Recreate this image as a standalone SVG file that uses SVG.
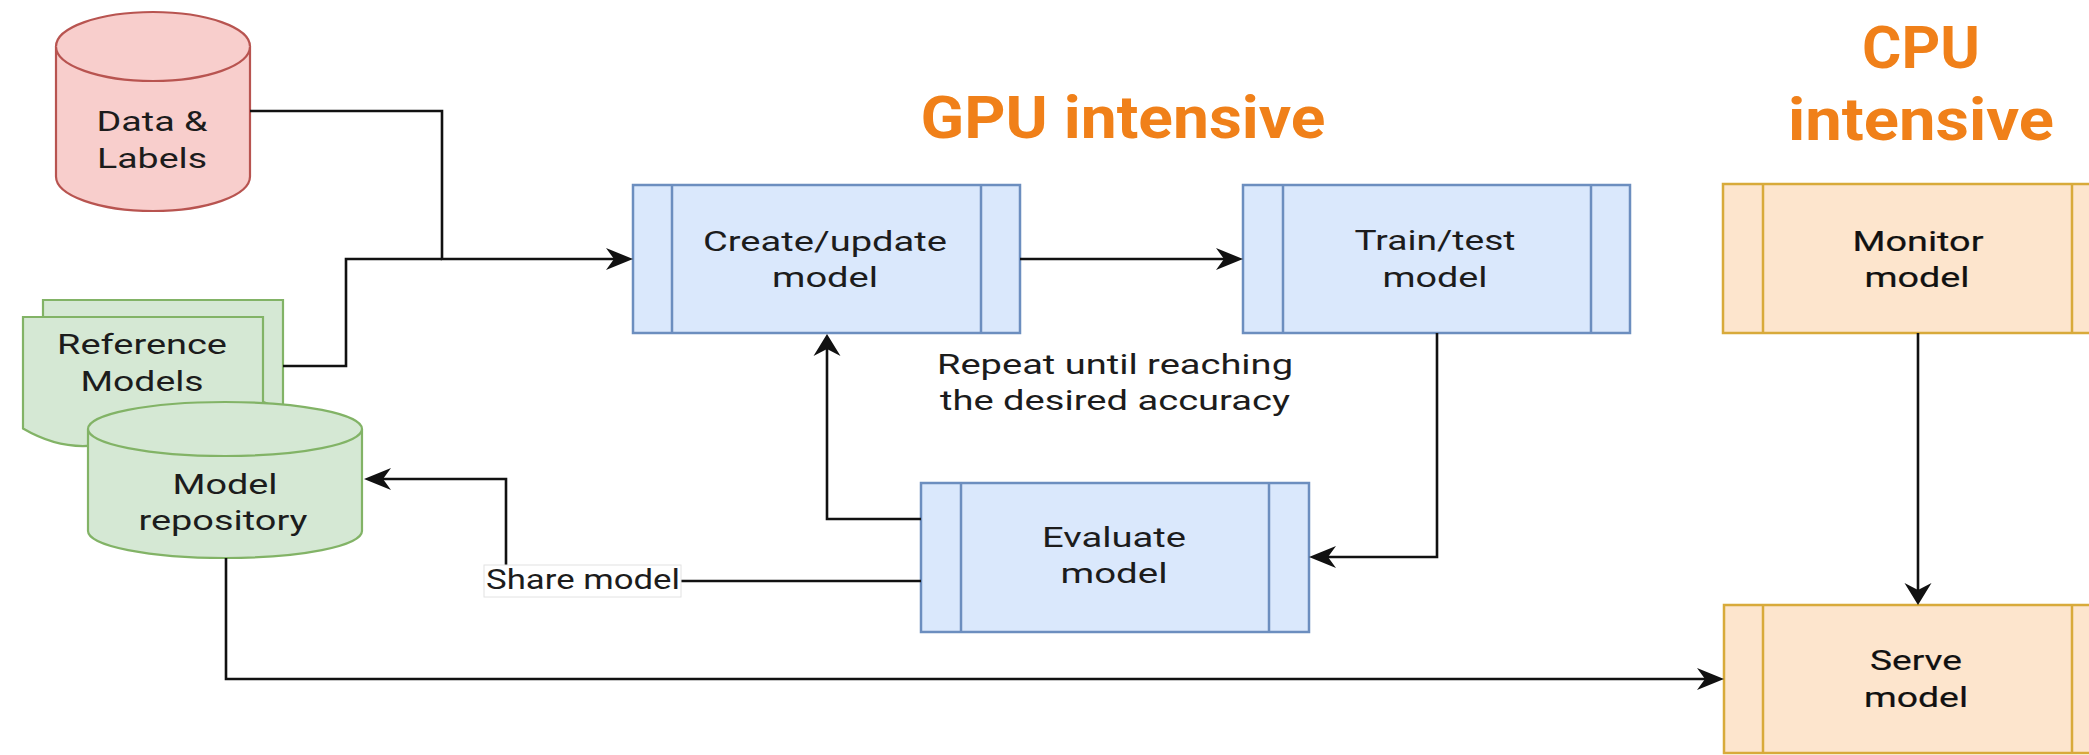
<svg xmlns="http://www.w3.org/2000/svg" width="2089" height="755" viewBox="0 0 2089 755">
  <style>
    .lbl { font-family: Roboto, "Liberation Sans", sans-serif; font-size: 27px; fill: #1c1c1c; text-anchor: middle; }
    .lblb { font-family: Roboto, "Liberation Sans", sans-serif; font-size: 27px; font-weight: 400; fill: #111111; stroke: #111111; stroke-width: 0.2; text-anchor: middle; }
    .head { font-family: Roboto, "Liberation Sans", sans-serif; font-size: 60px; font-weight: 700; fill: #F08019; text-anchor: middle; }
    .blue { fill: #DAE8FC; stroke: #6C8EBF; stroke-width: 2.5; }
    .orange { fill: #FDE5CD; stroke: #D8AA3A; stroke-width: 2.5; }
    .red { fill: #F8CECC; stroke: #B85450; stroke-width: 2.2; }
    .green { fill: #D5E8D4; stroke: #82B366; stroke-width: 2.2; }
    .edge { fill: none; stroke: #111; stroke-width: 2.6; }
    .ah { fill: #111; stroke: none; }
  </style>
  <defs>
    <marker id="arrowH" markerUnits="userSpaceOnUse" viewBox="-28 -12 29 24" markerWidth="29" markerHeight="24" refX="-18" refY="0" orient="auto">
      <path class="ah" d="M0,0 L-27,-11 L-19,0 L-27,11 Z"/>
    </marker>
    <marker id="arrowV" markerUnits="userSpaceOnUse" viewBox="-23 -14 24 28" markerWidth="24" markerHeight="28" refX="-14" refY="0" orient="auto">
      <path class="ah" d="M0,0 L-22,-13.5 L-15,0 L-22,13.5 Z"/>
    </marker>
  </defs>
  <rect x="0" y="0" width="2089" height="755" fill="#ffffff"/>

  <g id="title-gpu">
    <text class="head" x="1123" y="138" textLength="405" lengthAdjust="spacingAndGlyphs">GPU intensive</text>
  </g>
  <g id="title-cpu">
    <text class="head" x="1921" y="68" textLength="118" lengthAdjust="spacingAndGlyphs">CPU</text>
    <text class="head" x="1921" y="140" textLength="266" lengthAdjust="spacingAndGlyphs">intensive</text>
  </g>

  <g id="data-labels">
    <path class="red" d="M56,46.5 A97,34.5 0 0 1 250,46.5 V176.5 A97,34.5 0 0 1 56,176.5 Z"/>
    <path class="red" fill="none" d="M56,46.5 A97,34.5 0 0 0 250,46.5"/>
    <text class="lbl" x="152" y="131" textLength="111" lengthAdjust="spacingAndGlyphs">Data &amp;</text>
    <text class="lbl" x="152" y="168" textLength="110" lengthAdjust="spacingAndGlyphs">Labels</text>
  </g>

  <g id="reference-models">
    <path class="green" d="M43,300 H283 V411.5 Q223,376.4 163,411.5 Q103,446.6 43,411.5 Z"/>
    <path class="green" d="M23,317 H263 V428.5 Q203,393.4 143,428.5 Q83,463.6 23,428.5 Z"/>
    <text class="lbl" x="142" y="354" textLength="170" lengthAdjust="spacingAndGlyphs">Reference</text>
    <text class="lbl" x="142" y="391" textLength="123" lengthAdjust="spacingAndGlyphs">Models</text>
  </g>

  <g id="model-repository">
    <path class="green" d="M88,429 A137,27 0 0 1 362,429 V531 A137,27 0 0 1 88,531 Z"/>
    <path class="green" fill="none" d="M88,429 A137,27 0 0 0 362,429"/>
    <text class="lbl" x="225" y="494" textLength="105" lengthAdjust="spacingAndGlyphs">Model</text>
    <text class="lbl" x="223" y="530" textLength="169" lengthAdjust="spacingAndGlyphs">repository</text>
  </g>

  <g id="create-update-model">
    <rect class="blue" x="633" y="185" width="387" height="148"/>
    <line class="blue" x1="672" y1="185" x2="672" y2="333"/>
    <line class="blue" x1="981" y1="185" x2="981" y2="333"/>
    <text class="lbl" x="825" y="251" textLength="244" lengthAdjust="spacingAndGlyphs">Create/update</text>
    <text class="lbl" x="825" y="287" textLength="106" lengthAdjust="spacingAndGlyphs">model</text>
  </g>

  <g id="train-test-model">
    <rect class="blue" x="1243" y="185" width="387" height="148"/>
    <line class="blue" x1="1283" y1="185" x2="1283" y2="333"/>
    <line class="blue" x1="1591" y1="185" x2="1591" y2="333"/>
    <text class="lbl" x="1435" y="250" textLength="161" lengthAdjust="spacingAndGlyphs">Train/test</text>
    <text class="lbl" x="1435" y="287" textLength="105" lengthAdjust="spacingAndGlyphs">model</text>
  </g>

  <g id="repeat-note">
    <text class="lbl" x="1115" y="374" textLength="356" lengthAdjust="spacingAndGlyphs">Repeat until reaching</text>
    <text class="lbl" x="1115" y="410" textLength="350" lengthAdjust="spacingAndGlyphs">the desired accuracy</text>
  </g>

  <g id="evaluate-model">
    <rect class="blue" x="921" y="483" width="388" height="149"/>
    <line class="blue" x1="961" y1="483" x2="961" y2="632"/>
    <line class="blue" x1="1269" y1="483" x2="1269" y2="632"/>
    <text class="lbl" x="1114" y="547" textLength="144" lengthAdjust="spacingAndGlyphs">Evaluate</text>
    <text class="lbl" x="1114" y="583" textLength="107" lengthAdjust="spacingAndGlyphs">model</text>
  </g>

  <g id="monitor-model">
    <rect class="orange" x="1723" y="184" width="388" height="149"/>
    <line class="orange" x1="1763" y1="184" x2="1763" y2="333"/>
    <line class="orange" x1="2072" y1="184" x2="2072" y2="333"/>
    <text class="lblb" x="1918" y="251" textLength="131" lengthAdjust="spacingAndGlyphs">Monitor</text>
    <text class="lblb" x="1917" y="287" textLength="105" lengthAdjust="spacingAndGlyphs">model</text>
  </g>

  <g id="serve-model">
    <rect class="orange" x="1724" y="605" width="388" height="148"/>
    <line class="orange" x1="1763" y1="605" x2="1763" y2="753"/>
    <line class="orange" x1="2072" y1="605" x2="2072" y2="753"/>
    <text class="lblb" x="1916" y="670" textLength="92" lengthAdjust="spacingAndGlyphs">Serve</text>
    <text class="lblb" x="1916" y="707" textLength="104" lengthAdjust="spacingAndGlyphs">model</text>
  </g>

  <g id="connectors">
    <path class="edge" d="M250,111 H442 V259 H615" marker-end="url(#arrowH)"/>
    <path class="edge" d="M283,366 H346 V259 H442"/>
    <path class="edge" d="M1020,259 H1225" marker-end="url(#arrowH)"/>
    <path class="edge" d="M1437,333 V557 H1327" marker-end="url(#arrowH)"/>
    <path class="edge" d="M921,519 H827 V348" marker-end="url(#arrowV)"/>
    <path class="edge" d="M921,581 H506 V479 H382" marker-end="url(#arrowH)"/>
    <path class="edge" d="M226,558 V679 H1706" marker-end="url(#arrowH)"/>
    <path class="edge" d="M1918,333 V591" marker-end="url(#arrowV)"/>
    <g id="share-model-label">
      <rect x="484" y="565" width="197" height="32" fill="#ffffff" stroke="#e2e2e2" stroke-width="1"/>
      <text class="lbl" x="583" y="589" textLength="194" lengthAdjust="spacingAndGlyphs">Share model</text>
    </g>
  </g>
</svg>
